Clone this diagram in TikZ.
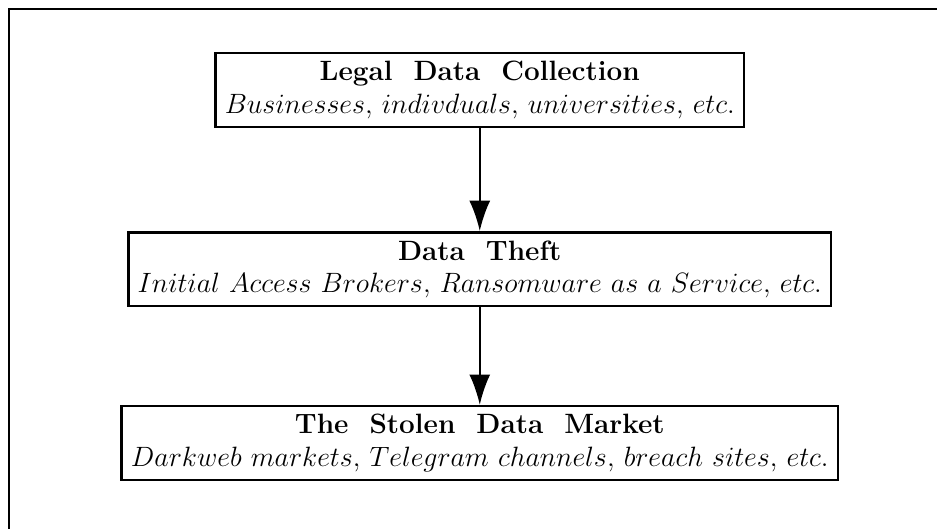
\documentclass[tikz,border=0pt]{standalone}
\usepackage{amsmath}
\usepackage{tikz}
\usetikzlibrary{positioning,arrows.meta}
\tikzstyle{stage}=[draw, line width=1.1pt, align=center, font=\large, inner xsep=4pt, inner ysep=3.5pt]
\tikzstyle{flow}=[line width=0.9pt, -{Latex[length=13pt,width=9pt]}]

\begin{document}
\begin{tikzpicture}[node distance=1.55cm]
        \useasboundingbox (0,0) rectangle (14.14,-7.98);
        \draw[line width=1.1pt] (0.136,-7.98) -- (0.136,-0.136) -- (14.14,-0.136);
        \node[stage] (collect) at (7.24,-1.36) {\textbf{Legal\ \ Data\ \ Collection}\\ $Businesses$, $indivduals$, $universities$, $etc.$};
        \node[stage, below=of collect] (theft) {\textbf{Data\ \ Theft}\\ $Initial\ Access\ Brokers$, $Ransomware\ as\ a\ Service$, $etc.$};
        \node[stage, below=1.47cm of theft] (market) {\textbf{The\ \ Stolen\ \ Data\ \ Market}\\ $Darkweb\ markets$, $Telegram\ channels$, $breach\ sites$, $etc.$};
        \draw[flow] (collect) -- (theft);
        \draw[flow] (theft) -- (market);
    \end{tikzpicture}
\end{document}
